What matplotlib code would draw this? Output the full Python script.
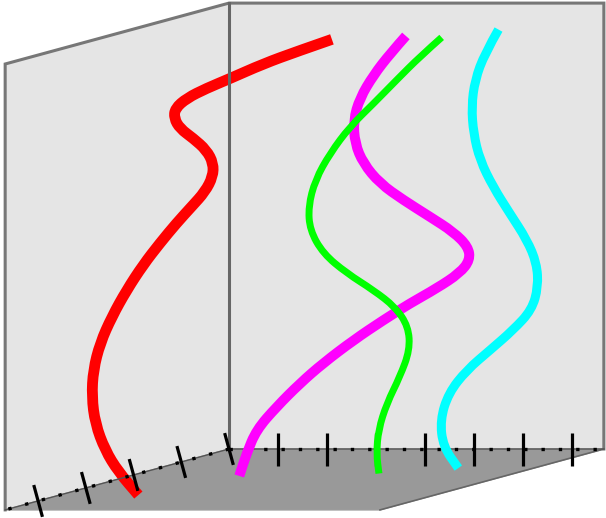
import numpy as np
import matplotlib
matplotlib.use('Agg')
import matplotlib.pyplot as plt
from matplotlib.path import Path
from matplotlib.patches import PathPatch

# box size (axis units: one tick step = 1)
x_max = 7.65
z_max = 9.10
depth_max = 4.69
depth_dir = np.array([-0.974, -0.265])   # oblique direction of the depth axis

x_ticks = [1, 2, 3, 4, 5, 6, 7]
depth_ticks = [0, 1, 2, 3, 4]

red_x = [2.10, 1.38, 0.70, 0.02, -0.46, -0.86, -1.10, -1.12, -1.00, -0.73, -0.46, -0.32,
         -0.33, -0.49, -0.76, -1.07, -1.41, -1.75, -2.09, -2.39, -2.63, -2.77, -2.80,
         -2.73, -2.53, -2.26, -1.85]
red_z = [8.36, 8.11, 7.86, 7.56, 7.36, 7.16, 6.95, 6.75, 6.54, 6.34, 6.10, 5.83,
         5.56, 5.25, 4.95, 4.61, 4.20, 3.76, 3.24, 2.70, 2.16, 1.61, 1.07,
         0.52, -0.02, -0.46, -0.94]

magenta_x = [3.61, 3.29, 2.95, 2.67, 2.54, 2.57, 2.74, 3.08, 3.56, 4.10, 4.58, 4.88,
             4.92, 4.71, 4.24, 3.69, 3.15, 2.54, 1.92, 1.45, 0.97, 0.56, 0.36, 0.21]
magenta_z = [8.43, 8.07, 7.63, 7.16, 6.71, 6.24, 5.83, 5.42, 5.08, 4.74, 4.43, 4.13,
             3.86, 3.59, 3.28, 2.97, 2.63, 2.22, 1.75, 1.34, 0.86, 0.39, -0.09, -0.55]

green_x = [4.34, 3.90, 3.42, 2.95, 2.47, 2.06, 1.76, 1.62, 1.65, 1.92, 2.40, 2.95,
           3.39, 3.66, 3.69, 3.49, 3.22, 3.05, 3.01, 3.06]
green_z = [8.40, 8.01, 7.53, 7.05, 6.58, 6.03, 5.49, 4.95, 4.47, 3.99, 3.59, 3.24,
           2.90, 2.50, 2.02, 1.48, 0.93, 0.39, -0.09, -0.50]

cyan_x = [5.50, 5.22, 5.02, 4.95, 4.99, 5.12, 5.39, 5.73, 6.08, 6.28, 6.31, 6.18,
          5.80, 5.33, 4.85, 4.48, 4.31, 4.37, 4.68]
cyan_z = [8.56, 8.07, 7.53, 6.99, 6.44, 5.90, 5.35, 4.81, 4.27, 3.79, 3.31, 2.84,
          2.43, 2.02, 1.61, 1.14, 0.59, 0.05, -0.39]


def smooth_path(xs, zs):
    # quadratic bezier through midpoints, the read points act as control points
    pts = np.column_stack([xs, zs])
    verts = [pts[0]]
    codes = [Path.MOVETO]
    for i in range(1, len(pts) - 1):
        verts += [pts[i], (pts[i] + pts[i + 1]) / 2]
        codes += [Path.CURVE3, Path.CURVE3]
    verts.append(pts[-1])
    codes.append(Path.LINETO)
    return Path(verts, codes)


fig = plt.figure(figsize=(6.06, 5.18), dpi=100)
ax = fig.add_axes([0, 0, 1, 1])
ax.set_xlim(-229 / 49, 377 / 49)
ax.set_ylim(-69 / 49, 449 / 49)
ax.axis('off')

front = depth_dir * depth_max

# walls and floor
wall_col = '#e5e5e5'
edge_col = '#777777'
ax.fill([0, x_max, x_max, 0], [0, 0, z_max, z_max], color=wall_col, zorder=0.5)
ax.fill([0, front[0], front[0], 0], [0, front[1], front[1] + z_max, z_max],
        color=wall_col, zorder=0.5)
ax.fill([0, x_max, x_max + front[0], front[0]], [0, 0, front[1], front[1]],
        color='#999999', zorder=0.6)

# pane outlines
ax.plot([front[0], front[0], 0, x_max, x_max],
        [front[1], front[1] + z_max, z_max, z_max, 0],
        color=edge_col, lw=2.2, solid_joinstyle='miter', zorder=2)
ax.plot([0, 0], [0, z_max], color='#666666', lw=2.2, zorder=2)
ax.plot([x_max, x_max + front[0]], [0, front[1]], color='#666666', lw=1.2, zorder=2)

# floor axes: thin line with dots
ax.plot([front[0], 0, x_max], [front[1], 0, 0], color='#555555', lw=1.0, zorder=2)
ax.plot([0, x_max], [0, 0], color='black', lw=2.4, dashes=(1, 4.2),
        dash_capstyle='butt', zorder=2.1)
ax.plot([0, front[0]], [0, front[1]], color='black', lw=2.4, dashes=(1, 4.2),
        dash_capstyle='butt', zorder=2.1)

# ticks
half = 16.5 / 49
for t in x_ticks:
    ax.plot([t, t], [-half, half], color='black', lw=2.3, solid_capstyle='butt', zorder=3)
perp = np.array([-depth_dir[1], depth_dir[0]])
perp = perp / np.hypot(*perp)
if perp[1] < 0:
    perp = -perp
for t in depth_ticks:
    c = depth_dir * t
    ax.plot([c[0] - perp[0] * half, c[0] + perp[0] * half],
            [c[1] - perp[1] * half, c[1] + perp[1] * half],
            color='black', lw=2.3, solid_capstyle='butt', zorder=3)

# curves
curves = [
    (red_x, red_z, '#ff0000', 7.8, 1),
    (magenta_x, magenta_z, '#ff00ff', 7.2, 4),
    (green_x, green_z, '#00ff00', 5.0, 4),
    (cyan_x, cyan_z, '#00ffff', 6.5, 4),
]
for xs, zs, col, lw, z in curves:
    ax.add_patch(PathPatch(smooth_path(xs, zs), fill=False, edgecolor=col, lw=lw,
                           capstyle='butt', joinstyle='round', zorder=z))

fig.savefig('out.png', dpi=100)
